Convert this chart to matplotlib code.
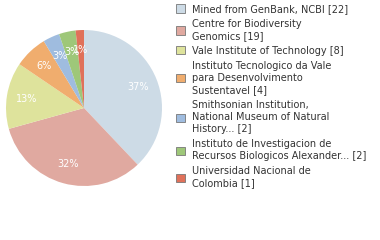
import matplotlib
matplotlib.use("Agg")
import matplotlib.pyplot as plt

labels = ["Mined from GenBank, NCBI [22]",
          "Centre for Biodiversity\nGenomics [19]",
          "Vale Institute of Technology [8]",
          "Instituto Tecnologico da Vale\npara Desenvolvimento\nSustentavel [4]",
          "Smithsonian Institution,\nNational Museum of Natural\nHistory... [2]",
          "Instituto de Investigacion de\nRecursos Biologicos Alexander... [2]",
          "Universidad Nacional de\nColombia [1]"]
values = [22, 19, 8, 4, 2, 2, 1]
colors = ["#cddbe6", "#e0a9a0", "#dee39c", "#f0ad6e", "#9fbcdf", "#9ec779", "#e0715a"]

fig = plt.figure(figsize=(3.8, 2.4), dpi=100)
ax = fig.add_axes([(84 - 78) / 380, 1 - (108 + 78) / 240, 156 / 380, 156 / 240])
wedges, texts, autotexts = ax.pie(values, colors=colors, startangle=90, counterclock=False,
       autopct=lambda p: f"{int(p)}%", pctdistance=0.74,
       textprops=dict(color="white", fontsize=7))
ax.set_xlim(-1, 1)
ax.set_ylim(-1, 1)
ax.set_aspect("equal")

leg = fig.legend(wedges, labels, loc="upper left", bbox_to_anchor=(172 / 380, 1.0),
                 frameon=False, fontsize=7, handlelength=0.9, handleheight=0.9,
                 handletextpad=0.8, labelspacing=0.5, borderaxespad=0.0)
for t in leg.get_texts():
    t.set_color("#333333")
    t.set_linespacing(1.27)
for h in leg.legend_handles:
    h.set_edgecolor("#777777")
    h.set_linewidth(0.6)

fig.savefig("out.png", dpi=100)
